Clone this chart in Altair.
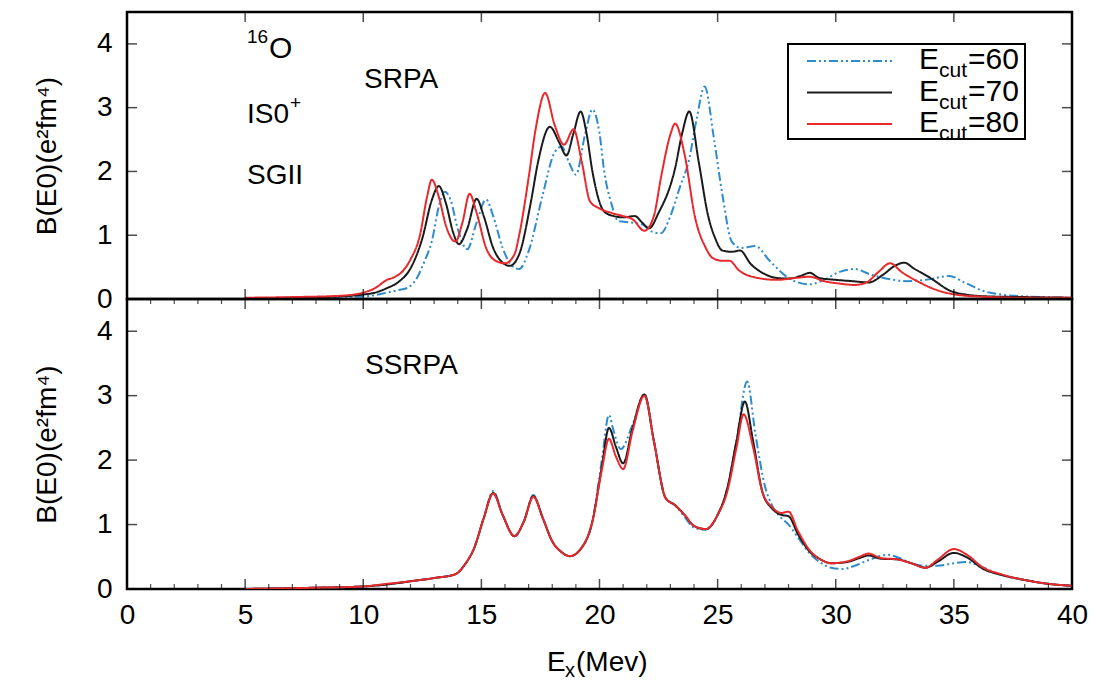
import altair as alt
import pandas as pd

# ---------------- data ----------------
series_names = ["Ecut=60", "Ecut=70", "Ecut=80"]
x_major = [0, 5, 10, 15, 20, 25, 30, 35, 40]
x_minor = [i for i in range(0, 41) if i % 5 != 0]
y_major = [0, 1, 2, 3, 4]

# SRPA panel: (E_x [MeV], B(E0))
srpa_60 = [(5, 0.01), (8, 0.02), (10, 0.04), (10.5, 0.06), (11, 0.1), (11.5, 0.14), (11.9, 0.18),
           (12.3, 0.35), (12.6, 0.6), (12.9, 0.9), (13.2, 1.45), (13.45, 1.68), (13.7, 1.55), (14.0, 1.1),
           (14.4, 0.78), (14.8, 1.2), (15.2, 1.56), (15.5, 1.3), (15.9, 0.8), (16.3, 0.52), (16.6, 0.47),
           (17.0, 0.75), (17.6, 1.64), (18.1, 2.3), (18.4, 2.39), (18.7, 2.15), (19.0, 1.95), (19.4, 2.6),
           (19.7, 2.97), (20.0, 2.6), (20.2, 2.0), (20.5, 1.5), (20.8, 1.22), (21.3, 1.2), (21.8, 1.17),
           (22.2, 1.06), (22.6, 1.03), (23.0, 1.3), (23.4, 1.75), (23.8, 2.2), (24.1, 2.8), (24.45, 3.33),
           (24.85, 2.5), (25.2, 1.64), (25.6, 0.9), (26.0, 0.8), (26.6, 0.83), (27.2, 0.6), (28.0, 0.33),
           (28.9, 0.23), (29.5, 0.3), (30.2, 0.43), (30.8, 0.47), (31.5, 0.38), (32.3, 0.31), (33.0, 0.28),
           (33.8, 0.3), (34.8, 0.36), (35.5, 0.25), (36.3, 0.12), (37.0, 0.07), (38, 0.04), (40, 0.02)]
srpa_70 = [(5, 0.01), (7, 0.02), (9, 0.04), (10, 0.07), (10.5, 0.1), (11, 0.17), (11.5, 0.27), (12, 0.48),
           (12.5, 0.95), (12.9, 1.55), (13.2, 1.77), (13.5, 1.5), (13.8, 1.05), (14.05, 0.86), (14.4, 1.1),
           (14.8, 1.57), (15.1, 1.3), (15.5, 0.8), (15.9, 0.57), (16.2, 0.52), (16.6, 0.7), (17.1, 1.53),
           (17.4, 2.15), (17.9, 2.7), (18.3, 2.45), (18.6, 2.25), (18.9, 2.6), (19.2, 2.94), (19.45, 2.6),
           (19.7, 2.0), (20.2, 1.37), (20.6, 1.3), (21.0, 1.28), (21.5, 1.3), (21.8, 1.2), (22.1, 1.11),
           (22.5, 1.35), (23.2, 2.05), (23.5, 2.6), (23.8, 2.94), (24.2, 2.15), (24.6, 1.3), (24.9, 0.95),
           (25.2, 0.76), (25.6, 0.74), (25.95, 0.76), (26.4, 0.55), (27.0, 0.39), (27.5, 0.33), (28.0, 0.32),
           (28.5, 0.36), (28.9, 0.41), (29.3, 0.33), (30.0, 0.3), (30.7, 0.28), (31.4, 0.26), (32.0, 0.38),
           (32.5, 0.52), (32.9, 0.57), (33.3, 0.48), (34.0, 0.33), (34.9, 0.12), (35.5, 0.07), (36.5, 0.04),
           (38, 0.03), (40, 0.02)]
srpa_80 = [(5, 0.02), (7, 0.03), (9, 0.05), (10, 0.1), (10.5, 0.17), (11.0, 0.3), (11.3, 0.34), (11.7, 0.45),
           (12.0, 0.62), (12.4, 1.0), (12.7, 1.6), (12.9, 1.87), (13.2, 1.6), (13.5, 1.15), (13.9, 0.9),
           (14.2, 1.2), (14.5, 1.65), (14.8, 1.35), (15.2, 0.8), (15.6, 0.6), (16.0, 0.56), (16.4, 0.7),
           (16.6, 1.0), (17.0, 1.9), (17.3, 2.67), (17.7, 3.23), (18.1, 2.73), (18.5, 2.42), (18.9, 2.66),
           (19.25, 2.15), (19.6, 1.53), (20.0, 1.42), (20.5, 1.35), (21.0, 1.3), (21.4, 1.25), (21.9, 1.07),
           (22.3, 1.3), (22.6, 1.9), (23.0, 2.58), (23.2, 2.75), (23.6, 2.27), (24.05, 1.27), (24.5, 0.8),
           (24.8, 0.64), (25.2, 0.6), (25.5, 0.6), (25.9, 0.45), (26.7, 0.33), (27.5, 0.3), (28.3, 0.33),
           (28.9, 0.35), (29.5, 0.28), (30.2, 0.24), (30.8, 0.22), (31.3, 0.26), (31.8, 0.42), (32.3, 0.56),
           (32.8, 0.42), (33.5, 0.27), (34.2, 0.15), (34.9, 0.08), (36, 0.04), (38, 0.02), (40, 0.02)]

# SSRPA panel
ssrpa_60 = [(5, 0.0), (8, 0.02), (10, 0.04), (11, 0.07), (12, 0.12), (13, 0.17), (13.9, 0.23), (14.3, 0.38),
            (14.7, 0.64), (15.1, 1.1), (15.5, 1.52), (15.9, 1.15), (16.4, 0.82), (16.8, 1.05), (17.2, 1.46),
            (17.6, 1.1), (18.0, 0.74), (18.4, 0.57), (18.75, 0.51), (19.2, 0.62), (19.7, 1.05), (20.1, 2.0),
            (20.4, 2.7), (20.6, 2.45), (20.9, 2.17), (21.4, 2.55), (21.9, 3.02), (22.3, 2.3), (22.8, 1.41),
            (23.2, 1.3), (23.6, 1.12), (24.0, 0.95), (24.5, 0.92), (25.0, 1.15), (25.4, 1.55), (25.8, 2.3),
            (26.25, 3.22), (26.6, 2.4), (27.0, 1.6), (27.3, 1.3), (27.7, 1.1), (28.0, 1.0), (28.4, 0.8),
            (28.9, 0.55), (29.4, 0.4), (29.8, 0.33), (30.3, 0.31), (30.8, 0.36), (31.4, 0.45), (32.2, 0.53),
            (32.7, 0.48), (33.2, 0.4), (33.8, 0.36), (34.3, 0.36), (35.0, 0.4), (35.5, 0.42), (36.2, 0.34),
            (37.0, 0.22), (38.0, 0.14), (39, 0.08), (40, 0.05)]
ssrpa_70 = [(5, 0.0), (8, 0.02), (10, 0.04), (11, 0.07), (12, 0.12), (13, 0.17), (13.9, 0.23), (14.3, 0.38),
            (14.7, 0.64), (15.1, 1.1), (15.5, 1.49), (15.9, 1.15), (16.4, 0.82), (16.8, 1.05), (17.2, 1.44),
            (17.6, 1.1), (18.0, 0.74), (18.4, 0.57), (18.75, 0.51), (19.2, 0.62), (19.7, 1.05), (20.1, 1.9),
            (20.4, 2.5), (20.7, 2.2), (21.0, 1.95), (21.4, 2.5), (21.9, 3.02), (22.3, 2.3), (22.8, 1.41),
            (23.2, 1.3), (23.6, 1.15), (24.0, 0.98), (24.5, 0.93), (25.0, 1.15), (25.4, 1.55), (25.8, 2.3),
            (26.15, 2.91), (26.5, 2.3), (26.9, 1.5), (27.3, 1.25), (27.7, 1.15), (28.0, 1.13), (28.4, 0.85),
            (28.9, 0.58), (29.4, 0.45), (29.8, 0.4), (30.5, 0.42), (31.0, 0.48), (31.4, 0.52), (31.9, 0.47),
            (32.6, 0.46), (33.2, 0.4), (33.8, 0.33), (34.3, 0.42), (35.0, 0.56), (35.6, 0.48), (36.2, 0.32),
            (37.0, 0.22), (38.0, 0.14), (39, 0.08), (40, 0.05)]
ssrpa_80 = [(5, 0.0), (8, 0.02), (10, 0.04), (11, 0.08), (12, 0.12), (13, 0.17), (13.9, 0.23), (14.3, 0.38),
            (14.7, 0.64), (15.1, 1.1), (15.5, 1.48), (15.9, 1.15), (16.4, 0.82), (16.8, 1.05), (17.2, 1.43),
            (17.6, 1.1), (18.0, 0.74), (18.4, 0.57), (18.75, 0.51), (19.2, 0.62), (19.7, 1.05), (20.1, 1.85),
            (20.4, 2.33), (20.7, 2.05), (21.0, 1.86), (21.4, 2.45), (21.9, 3.0), (22.3, 2.3), (22.8, 1.41),
            (23.2, 1.3), (23.6, 1.15), (24.0, 0.98), (24.5, 0.93), (25.0, 1.15), (25.4, 1.5), (25.8, 2.2),
            (26.1, 2.71), (26.5, 2.2), (26.9, 1.5), (27.3, 1.27), (27.7, 1.18), (28.0, 1.2), (28.4, 0.9),
            (28.9, 0.6), (29.4, 0.45), (29.8, 0.4), (30.5, 0.43), (31.0, 0.5), (31.4, 0.55), (31.9, 0.48),
            (32.6, 0.46), (33.2, 0.4), (33.8, 0.33), (34.3, 0.45), (35.0, 0.62), (35.6, 0.52), (36.2, 0.34),
            (37.0, 0.23), (38.0, 0.14), (39, 0.08), (40, 0.05)]

panel_curves = {
    "SRPA": [srpa_60, srpa_70, srpa_80],
    "SSRPA": [ssrpa_60, ssrpa_70, ssrpa_80],
}

# ---------------- style ----------------
FONT = "Liberation Sans, Arial, Helvetica, sans-serif"
COLORS = ["#2f8ccc", "#1a1a1a", "#e8292c"]
DASHES = [[9, 3, 2, 3, 2, 3], [1, 0], [1, 0]]
W = 945
H_TOP = 287
H_BOT = 290
FS = 28

x_scale = alt.Scale(domain=[0, 40], nice=False, zero=False)
y_scale = alt.Scale(domain=[0, 4.5], nice=False, zero=False)


def txt(t, x, y, size=FS, align="left"):
    return alt.Chart(pd.DataFrame({"t": [t]})).mark_text(
        align=align, baseline="alphabetic", fontSize=size, font=FONT, color="black"
    ).encode(x=alt.value(x), y=alt.value(y), text="t:N")


def curves_layers(panel, show_x_axis, H):
    layers = []
    for name, pts, col, dash in zip(series_names, panel_curves[panel], COLORS, DASHES):
        df = pd.DataFrame(pts, columns=["E", "B"])
        df["series"] = name
        x_axis = (alt.Axis(values=x_major, ticks=False, tickSize=0, domain=False, grid=False,
                           labelFontSize=FS, labelFont=FONT, labelColor="black", labelPadding=12,
                           labelFlush=False, format="d", title=None)
                  if show_x_axis else None)
        y_axis = alt.Axis(values=y_major, ticks=False, tickSize=0, domain=False, grid=False,
                          labelFontSize=FS, labelFont=FONT, labelColor="black", labelPadding=15,
                          format="d",
                          title="B(E0)(e²fm⁴)", titleFontSize=FS, titleFont=FONT,
                          titleFontWeight="normal", titleColor="black", titleAngle=270,
                          titleX=-80, titleY=H / 2, titleAlign="center", titleBaseline="middle")
        layers.append(
            alt.Chart(df).mark_line(strokeWidth=2, color=col, strokeDash=dash,
                                    interpolate="monotone", clip=True).encode(
                x=alt.X("E:Q", scale=x_scale, axis=x_axis),
                y=alt.Y("B:Q", scale=y_scale, axis=y_axis),
                order="E:Q",
            )
        )
    return layers


def tick_layers(H, minor):
    """Inward (gnuplot-style) ticks on all four sides, placed through the scales."""
    out = []
    xm = pd.DataFrame({"v": x_major})
    for yc in [H - 5, 5]:
        out.append(alt.Chart(xm).mark_tick(color="black", thickness=1.5, size=10).encode(
            x=alt.X("v:Q", scale=x_scale), y=alt.value(yc)))
    if minor:
        xn = pd.DataFrame({"v": x_minor})
        for yc in [H - 2.5, 2.5]:
            out.append(alt.Chart(xn).mark_tick(color="black", thickness=1.2, size=5).encode(
                x=alt.X("v:Q", scale=x_scale), y=alt.value(yc)))
    ym = pd.DataFrame({"v": y_major})
    for xc in [5, W - 5]:
        out.append(alt.Chart(ym).mark_tick(color="black", thickness=1.5, size=10).encode(
            y=alt.Y("v:Q", scale=y_scale), x=alt.value(xc)))
    return out


# ---------------- top panel (SRPA) ----------------
legend_layers = [
    alt.Chart(pd.DataFrame({"a": [0]})).mark_rect(fill="white", stroke="black", strokeWidth=2).encode(
        x=alt.value(661), x2=alt.value(898), y=alt.value(32), y2=alt.value(127))
]
for i, (name, col, dash) in enumerate(zip(series_names, COLORS, DASHES)):
    ly = 49 + i * 31.5
    legend_layers.append(
        alt.Chart(pd.DataFrame({"a": [0]})).mark_rule(color=col, strokeWidth=2, strokeDash=dash).encode(
            x=alt.value(680), x2=alt.value(765), y=alt.value(ly)))
    base = 57 + i * 31.5
    legend_layers.append(txt("E", 792, base, 30))
    legend_layers.append(txt("cut", 812, base + 8, 21))
    legend_layers.append(txt("=" + name.split("=")[1], 841, base, 30))

top_annot = [
    txt("16", 120, 31, 19),
    txt("O", 142, 46, 30),
    txt("IS0", 120, 111, FS),
    txt("+", 163, 97, 19),
    txt("SGII", 120, 172, FS),
    txt("SRPA", 237, 76, FS),
]

top = alt.layer(
    *curves_layers("SRPA", False, H_TOP), *tick_layers(H_TOP, False), *legend_layers, *top_annot
).properties(width=W, height=H_TOP)

# ---------------- bottom panel (SSRPA) ----------------
bot_annot = [
    txt("SSRPA", 238, 75, FS),
    txt("E", 420, H_BOT + 82, FS),
    txt("x", 438, H_BOT + 88, 20),
    txt("(Mev)", 449, H_BOT + 82, FS),
]

bottom = alt.layer(
    *curves_layers("SSRPA", True, H_BOT), *tick_layers(H_BOT, True), *bot_annot
).properties(width=W, height=H_BOT)

chart = alt.vconcat(top, bottom, spacing=0, bounds="flush").properties(
    padding={"left": 31, "top": 10, "right": 5, "bottom": 0}
).configure_view(stroke="black", strokeWidth=2.5)

chart.save("out.html", embed_options={"renderer": "svg", "actions": False})
